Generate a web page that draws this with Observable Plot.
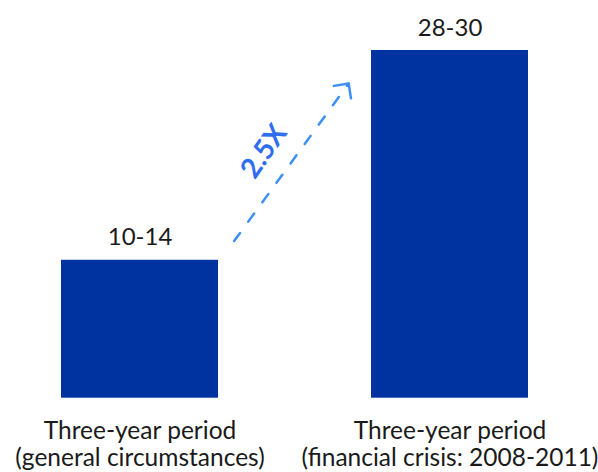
<!DOCTYPE html>
<html>
<head>
<meta charset="utf-8">
<script src="https://cdn.jsdelivr.net/npm/d3@7"></script>
<script src="https://cdn.jsdelivr.net/npm/@observablehq/plot@0.6"></script>
<style>
  html, body { margin: 0; padding: 0; background: #ffffff; }
  #chart svg { display: block; }
</style>
</head>
<body>
<div id="chart"></div>
<script>
// ---- data ----
const categories = [
  "Three-year period\n(general circumstances)",
  "Three-year period\n(financial crisis: 2008-2011)"
];
const values = [11.9, 30];
const valueLabels = ["10-14", "28-30"];
const multiplierLabel = "2.5X";
// annotation arrow in data units (x = category index, y = value)
const arrowFrom = {x: 0.298, y: 13.35};
const arrowTo = {x: 0.673, y: 27.15};
const multiplierPos = {x: 0.4, y: 21.3};

const data = categories.map((c, i) => ({i, category: c, value: values[i], label: valueLabels[i]}));
const arrow = [{x1: arrowFrom.x, y1: arrowFrom.y, x2: arrowTo.x, y2: arrowTo.y}];

const barColor = "#0033a0";
const arrowColor = "#3d8ff5";
const textColor = "#2f6ef0";
const font = "Lato, 'Noto Sans', sans-serif";

const chart = Plot.plot({
  width: 598,
  height: 472,
  marginTop: 50,
  marginBottom: 74.3,
  marginLeft: 0,
  marginRight: 0,
  style: {fontFamily: font, color: "#1a1a1a", background: "#ffffff"},
  x: {domain: [-0.45, 1.479], axis: null},
  y: {domain: [0, 30], axis: null},
  marks: [
    Plot.rectY(data, {x1: d => d.i - 0.2532, x2: d => d.i + 0.2532, y: "value", fill: barColor}),
    Plot.text(data, {x: "i", y: "value", text: "label", lineAnchor: "bottom", dy: -15, fontSize: 24, fill: "#1a1a1a"}),
    Plot.text(data, {x: "i", y: 0, text: "category", lineAnchor: "bottom", dy: 67.8, lineHeight: 1.1, fontSize: 24.5, fill: "#1a1a1a"}),
    Plot.link(arrow, {x1: "x1", y1: "y1", x2: "x2", y2: "y2", stroke: arrowColor, strokeWidth: 2.5, strokeDasharray: "10,14", strokeDashoffset: 21, strokeLinecap: "round"}),
    Plot.arrow(arrow, {x1: "x1", y1: "y1", x2: "x2", y2: "y2", stroke: arrowColor, strokeWidth: 2.5, headLength: 9, headAngle: 90, insetStart: 195, strokeLinecap: "round", strokeLinejoin: "round"}),
    Plot.text([multiplierPos], {x: "x", y: "y", text: () => multiplierLabel, rotate: -55, fontSize: 28, fontWeight: 700, fill: textColor})
  ]
});
document.getElementById("chart").appendChild(chart);
</script>
</body>
</html>
